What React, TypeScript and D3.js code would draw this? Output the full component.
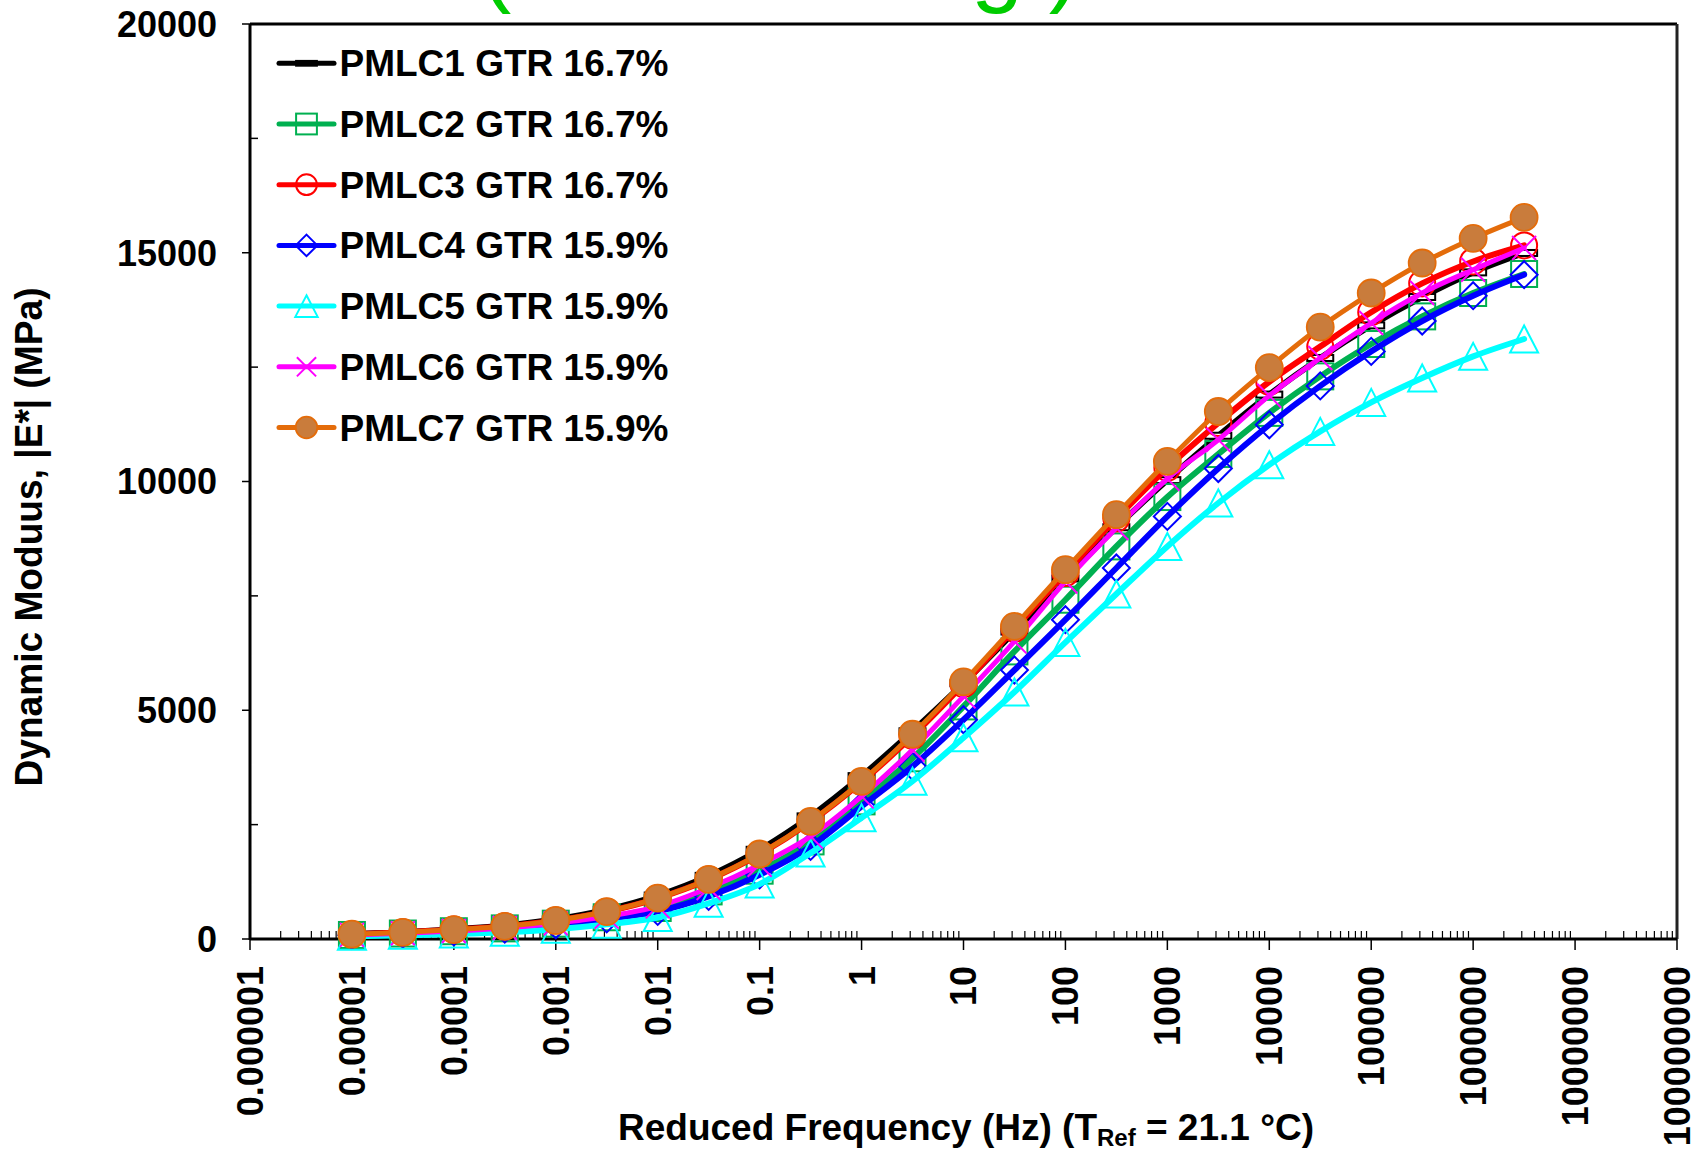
import React from "react";
import * as d3 from "d3";

// ---------- data ----------
const FREQ = [0.00001, 0.0000316, 0.0001, 0.000316, 0.001, 0.00316, 0.01, 0.0316, 0.1, 0.316, 1, 3.16, 10, 31.6, 100, 316, 1000, 3162, 10000, 31623, 100000, 316228, 1000000, 3162278];

const PMLC1 = [110, 150, 215, 295, 430, 640, 950, 1380, 1950, 2680, 3560, 4540, 5590, 6720, 7880, 9000, 10030, 11000, 11900, 12700, 13412, 14033, 14571, 14995];
const PMLC2 = [88, 120, 170, 232, 335, 475, 678, 1040, 1493, 2133, 3008, 3950, 5084, 6286, 7416, 8581, 9660, 10600, 11500, 12298, 13005, 13609, 14120, 14536];
const PMLC3 = [105, 145, 205, 278, 403, 598, 888, 1298, 1850, 2560, 3430, 4440, 5570, 6780, 8000, 9190, 10300, 11280, 12180, 12950, 13700, 14330, 14810, 15160];
const PMLC4 = [80, 110, 155, 215, 310, 440, 603, 931, 1405, 2024, 2899, 3773, 4793, 5880, 6979, 8109, 9237, 10285, 11240, 12090, 12844, 13508, 14061, 14520];
const PMLC5 = [60, 80, 110, 150, 215, 320, 470, 780, 1200, 1880, 2650, 3450, 4400, 5400, 6483, 7541, 8581, 9530, 10367, 11095, 11729, 12262, 12735, 13115];
const PMLC6 = [90, 125, 175, 240, 345, 490, 713, 1115, 1624, 2243, 3117, 4138, 5303, 6505, 7816, 8984, 10060, 10913, 11876, 12700, 13464, 14120, 14629, 15104];
const PMLC7 = [105, 145, 205, 278, 405, 600, 893, 1305, 1858, 2571, 3445, 4475, 5620, 6833, 8072, 9274, 10439, 11530, 12490, 13375, 14120, 14776, 15313, 15773];

const SERIES_NAMES = ["PMLC1 GTR 16.7%", "PMLC2 GTR 16.7%", "PMLC3 GTR 16.7%", "PMLC4 GTR 15.9%", "PMLC5 GTR 15.9%", "PMLC6 GTR 15.9%", "PMLC7 GTR 15.9%"];
const SERIES_VALUES = [PMLC1, PMLC2, PMLC3, PMLC4, PMLC5, PMLC6, PMLC7];

const X_TICKS = [0.000001, 0.00001, 0.0001, 0.001, 0.01, 0.1, 1, 10, 100, 1000, 10000, 100000, 1000000, 10000000, 100000000];
const X_TICK_LABELS = ["0.000001", "0.00001", "0.0001", "0.001", "0.01", "0.1", "1", "10", "100", "1000", "10000", "100000", "1000000", "10000000", "100000000"];
const Y_TICKS = [0, 5000, 10000, 15000, 20000];
const Y_MINOR = [2500, 7500, 12500, 17500];

// ---------- styles ----------
type Marker = "dash" | "square" | "circle" | "diamond" | "triangle" | "x" | "dot";
const STYLES: { color: string; marker: Marker; width: number }[] = [
  { color: "#000000", marker: "dash", width: 6 },
  { color: "#00B050", marker: "square", width: 6 },
  { color: "#FF0000", marker: "circle", width: 6 },
  { color: "#0000FF", marker: "diamond", width: 6 },
  { color: "#00FFFF", marker: "triangle", width: 6 },
  { color: "#FF00FF", marker: "x", width: 5 },
  { color: "#E46C0A", marker: "dot", width: 5 },
];

const FONT = "'Liberation Sans', Arial, Helvetica, sans-serif";
const W = 1702;
const H = 1150;
const M = { left: 250, right: 1677, top: 24, bottom: 939 };

function MarkerShape({ type, x, y, color, s = 1 }: { type: Marker; x: number; y: number; color: string; s?: number }) {
  const sw = 2;
  switch (type) {
    case "dash":
      return <rect x={x - 13 * s} y={y - 3 * s} width={26 * s} height={6 * s} fill={s < 1 ? color : "#fff"} stroke={color} strokeWidth={sw} />;
    case "square":
      return <rect x={x - 13 * s} y={y - 13 * s} width={26 * s} height={26 * s} fill="none" stroke={color} strokeWidth={sw} />;
    case "circle":
      return <circle cx={x} cy={y} r={13 * s} fill="none" stroke={color} strokeWidth={sw} />;
    case "diamond": {
      const h = 13.5 * s;
      return <path d={`M${x},${y - h}L${x + h},${y}L${x},${y + h}L${x - h},${y}Z`} fill="none" stroke={color} strokeWidth={sw} />;
    }
    case "triangle": {
      const h = 13.5 * s;
      return <path d={`M${x},${y - h}L${x + 14 * s},${y + h}L${x - 14 * s},${y + h}Z`} fill="none" stroke={color} strokeWidth={sw} />;
    }
    case "x": {
      const h = 12 * s;
      return <path d={`M${x - h},${y - h}L${x + h},${y + h}M${x - h},${y + h}L${x + h},${y - h}`} fill="none" stroke={color} strokeWidth={sw} />;
    }
    case "dot":
      return <circle cx={x} cy={y} r={13.5 * s} fill="#C97C3C" stroke={color} strokeWidth={1.8} />;
  }
}

export default function App() {
  const x = d3.scaleLog().domain([1e-6, 1e8]).range([M.left, M.right]);
  const y = d3.scaleLinear().domain([0, 20000]).range([M.bottom, M.top]);
  const line = d3
    .line<number>()
    .x((_, i) => x(FREQ[i]))
    .y((v) => y(v))
    .curve(d3.curveCardinal.tension(0));

  const minorX: number[] = [];
  for (let e = -6; e < 8; e++) {
    for (let k = 2; k <= 9; k++) minorX.push(k * Math.pow(10, e));
  }

  return (
    <svg width={W} height={H} style={{ position: "absolute", left: 0, top: 0, background: "#fff" }} fontFamily={FONT}>
      <rect x={0} y={0} width={W} height={H} fill="#fff" />
      {/* partially visible title (cut off at the top edge, as in the source) */}
      <text x={480} y={-6} fontSize={94} fill="#00CC00" fontFamily={FONT} textLength={600} lengthAdjust="spacing">(Loading)</text>

      {/* plot frame */}
      <line x1={M.left} x2={M.right} y1={M.top} y2={M.top} stroke="#000" strokeWidth={3} />
      <line x1={M.right} x2={M.right} y1={M.top} y2={M.bottom} stroke="#222" strokeWidth={3} />

      {/* y axis */}
      {Y_TICKS.map((t) => (
        <g key={"yt" + t}>
          <line x1={M.left - 8} x2={M.left} y1={y(t)} y2={y(t)} stroke="#000" strokeWidth={1.5} />
          <text x={217} y={y(t)} dy="0.36em" textAnchor="end" fontSize={36} fontWeight="bold">{t}</text>
        </g>
      ))}
      {Y_MINOR.map((t) => (
        <line key={"ym" + t} x1={M.left} x2={M.left + 8} y1={y(t)} y2={y(t)} stroke="#000" strokeWidth={1.5} />
      ))}

      {/* x axis ticks */}
      {minorX.map((t, i) => (
        <line key={"xm" + i} x1={x(t)} x2={x(t)} y1={M.bottom - 8} y2={M.bottom} stroke="#000" strokeWidth={1.2} />
      ))}
      {X_TICKS.map((t, i) => (
        <g key={"xt" + i}>
          <line x1={x(t)} x2={x(t)} y1={M.bottom} y2={M.bottom + 11} stroke="#000" strokeWidth={1.5} />
          <text
            transform={`translate(${x(t)},966) rotate(-90)`}
            dy="0.36em"
            textAnchor="end"
            fontSize={36}
            fontWeight="bold"
          >
            {X_TICK_LABELS[i]}
          </text>
        </g>
      ))}

      <line x1={M.left} x2={M.left} y1={M.top} y2={M.bottom + 1} stroke="#000" strokeWidth={3} />
      <line x1={M.left} x2={M.right} y1={M.bottom} y2={M.bottom} stroke="#000" strokeWidth={3} />

      {/* series */}
      {SERIES_VALUES.map((vals, si) => {
        const st = STYLES[si];
        return (
          <g key={"s" + si}>
            <path d={line(vals) || ""} fill="none" stroke={st.color} strokeWidth={st.width} strokeLinejoin="round" strokeLinecap="round" />
            {vals.map((v, i) => (
              <MarkerShape key={i} type={st.marker} x={x(FREQ[i])} y={y(v)} color={st.color} />
            ))}
          </g>
        );
      })}

      {/* legend */}
      {SERIES_NAMES.map((name, i) => {
        const st = STYLES[i];
        const ry = 63.3 + i * 60.7;
        return (
          <g key={"lg" + i}>
            <line x1={279} x2={334} y1={ry} y2={ry} stroke={st.color} strokeWidth={5} strokeLinecap="round" />
            <MarkerShape type={st.marker} x={306.5} y={ry} color={st.color} s={0.8} />
            <text x={339.5} y={ry + 13} fontSize={37} fontWeight="bold">{name}</text>
          </g>
        );
      })}

      {/* axis titles */}
      <text transform="translate(42,537) rotate(-90)" textAnchor="middle" fontSize={38} fontWeight="bold" textLength={499} lengthAdjust="spacingAndGlyphs">
        Dynamic Moduus, |E*| (MPa)
      </text>
      <text x={966} y={1140} textAnchor="middle" fontSize={37} fontWeight="bold">
        Reduced Frequency (Hz) (T
        <tspan fontSize={24} dy={6}>Ref</tspan>
        <tspan dy={-6}> = 21.1 °C)</tspan>
      </text>
    </svg>
  );
}
